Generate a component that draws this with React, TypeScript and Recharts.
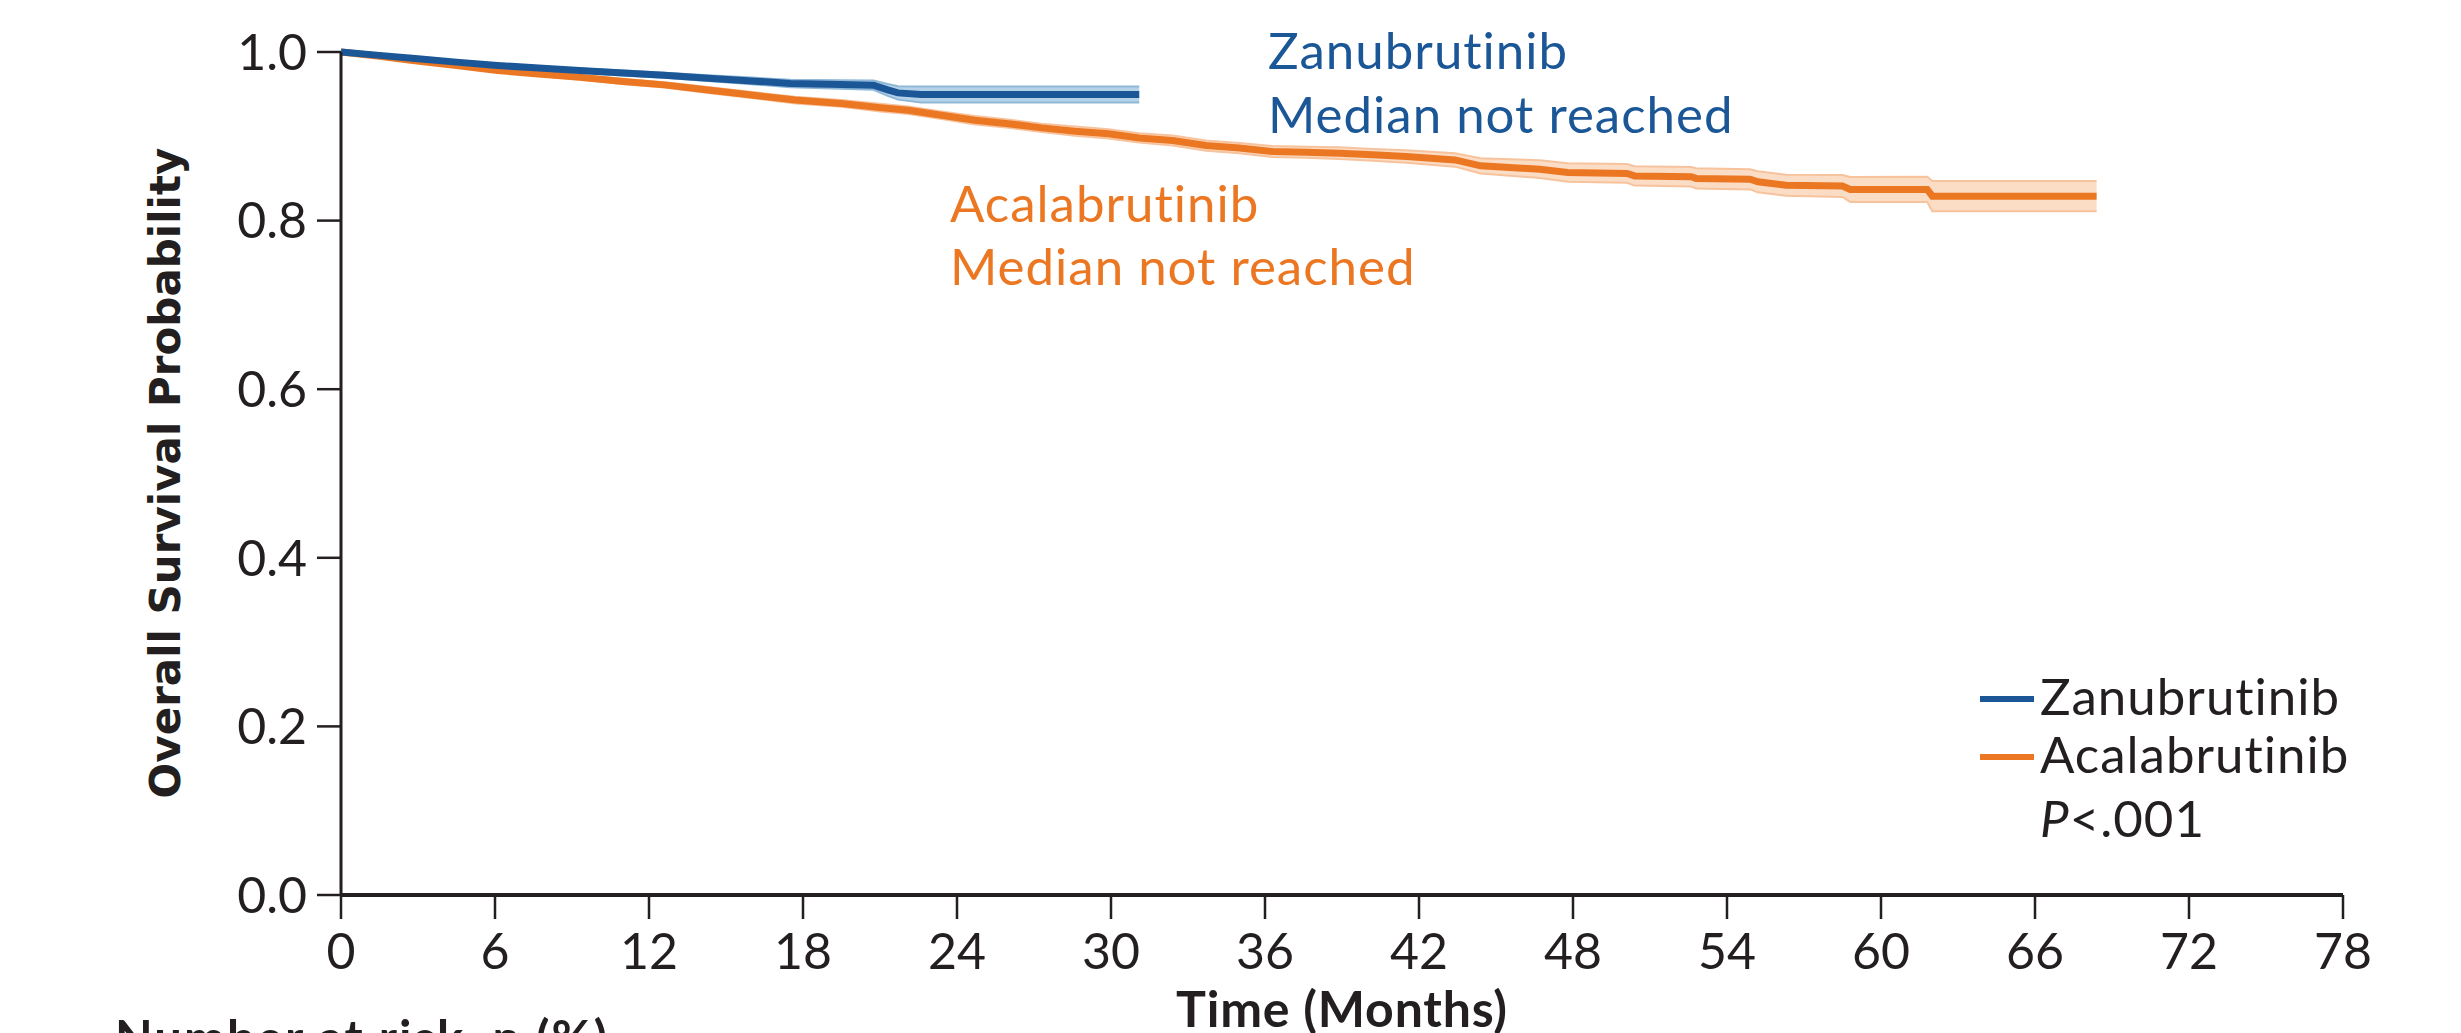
import React from 'react';
import { ComposedChart, Line, Area, XAxis, YAxis } from 'recharts';

// Kaplan-Meier overall survival
const monthTicks = [0, 6, 12, 18, 24, 30, 36, 42, 48, 54, 60, 66, 72, 78];
const survTicks = [0, 0.2, 0.4, 0.6, 0.8, 1.0];

const zanuMonths = [0, 1.5, 3.0, 4.5, 6.1, 7.7, 9.3, 11.0, 12.6, 14.3, 16.0, 17.5, 19.45, 20.75, 21.3, 21.7, 22.6, 31.1];
const zanuSurv = [1.0, 0.996, 0.992, 0.988, 0.984, 0.981, 0.978, 0.975, 0.9725, 0.969, 0.9657, 0.9626, 0.9614, 0.9606, 0.955, 0.9515, 0.9496, 0.9496];
const zanuCI = [0, 0.001, 0.0015, 0.002, 0.002, 0.0025, 0.0025, 0.003, 0.003, 0.0035, 0.004, 0.0045, 0.005, 0.0055, 0.007, 0.008, 0.0095, 0.0095];

const acalaMonths = [0, 1.5, 2.8, 4.5, 6.1, 7.7, 9.3, 11.0, 12.6, 14.3, 16.0, 17.7, 19.5, 21.0, 22.1, 23.4, 24.7, 26.0, 27.3, 28.6, 29.9, 31.1, 32.4, 33.7, 35.0, 36.3, 37.6, 38.9, 40.2, 41.5, 43.4, 44.4, 46.7, 47.8, 50.1, 50.4, 52.6, 52.8, 54.9, 55.2, 56.3, 58.5, 58.8, 61.8, 62.0, 68.4];
const acalaSurv = [1.0, 0.995, 0.99, 0.984, 0.978, 0.974, 0.97, 0.965, 0.961, 0.955, 0.949, 0.943, 0.939, 0.934, 0.931, 0.925, 0.919, 0.915, 0.91, 0.906, 0.903, 0.898, 0.895, 0.889, 0.886, 0.882, 0.881, 0.88, 0.878, 0.876, 0.872, 0.865, 0.861, 0.857, 0.856, 0.853, 0.852, 0.85, 0.849, 0.846, 0.842, 0.841, 0.837, 0.837, 0.829, 0.829];
const acalaCI = [0, 0.001, 0.0015, 0.002, 0.002, 0.0025, 0.0025, 0.003, 0.003, 0.0035, 0.0035, 0.004, 0.004, 0.0045, 0.0045, 0.0045, 0.005, 0.005, 0.005, 0.0055, 0.0055, 0.0055, 0.006, 0.006, 0.006, 0.0065, 0.0065, 0.007, 0.007, 0.0075, 0.008, 0.009, 0.0105, 0.011, 0.0112, 0.0115, 0.0115, 0.012, 0.012, 0.0125, 0.0125, 0.013, 0.0148, 0.015, 0.018, 0.018];

const BLUE = '#1b5797';
const ORANGE = '#ec7723';
const INK = '#231f20';
const FONT = 'Lato, "Open Sans", sans-serif';

const rows = (t: number[], s: number[], ci: number[]) =>
  t.map((m, i) => ({ t: m, s: s[i], band: [s[i] - ci[i], s[i] + ci[i]] }));

const zanuRows = rows(zanuMonths, zanuSurv, zanuCI);
const acalaRows = rows(acalaMonths, acalaSurv, acalaCI);

const W = 2461;
const H = 1033;

export default function App() {
  return (
    <div style={{ position: 'absolute', left: 0, top: 0, width: W, height: H, overflow: 'hidden', background: '#fff' }}>
      <ComposedChart width={W} height={H} margin={{ top: 52, right: 118, left: 0, bottom: 0 }}>
        <XAxis
          dataKey="t"
          type="number"
          domain={[0, 78]}
          ticks={monthTicks}
          allowDataOverflow
          height={138}
          tickSize={24}
          tickMargin={14}
          axisLine={{ stroke: INK, strokeWidth: 4 }}
          tickLine={{ stroke: INK, strokeWidth: 2.5 }}
          tick={{ fontSize: 50, fill: INK, fontFamily: FONT }}
        />
        <YAxis
          type="number"
          domain={[0, 1]}
          ticks={survTicks}
          width={341}
          tickSize={24}
          tickMargin={10}
          tickFormatter={(v: number) => v.toFixed(1)}
          axisLine={{ stroke: INK, strokeWidth: 3 }}
          tickLine={{ stroke: INK, strokeWidth: 2.5 }}
          tick={{ fontSize: 50, fill: INK, fontFamily: FONT }}
        />
        <Area
          data={acalaRows}
          dataKey="band"
          type="linear"
          stroke="#f7c39d"
          strokeWidth={2}
          fill="#fbdcc5"
          fillOpacity={1}
          dot={false}
          activeDot={false}
          isAnimationActive={false}
        />
        <Area
          data={zanuRows}
          dataKey="band"
          type="linear"
          stroke="#8fb8d8"
          strokeWidth={2}
          fill="#b5d2e8"
          fillOpacity={1}
          dot={false}
          activeDot={false}
          isAnimationActive={false}
        />
        <Line
          data={acalaRows}
          dataKey="s"
          type="linear"
          stroke={ORANGE}
          strokeWidth={7}
          dot={false}
          activeDot={false}
          isAnimationActive={false}
        />
        <Line
          data={zanuRows}
          dataKey="s"
          type="linear"
          stroke={BLUE}
          strokeWidth={7}
          dot={false}
          activeDot={false}
          isAnimationActive={false}
        />
      </ComposedChart>

      <svg width={W} height={H} style={{ position: 'absolute', left: 0, top: 0, pointerEvents: 'none' }}>
        <g fontFamily={FONT} fontSize={51} letterSpacing={1}>
          <text x={1268} y={69} fill={BLUE}>Zanubrutinib</text>
          <text x={1268} y={133} fill={BLUE}>Median not reached</text>
          <text x={950} y={222} fill={ORANGE}>Acalabrutinib</text>
          <text x={950} y={285} fill={ORANGE}>Median not reached</text>

          <line x1={1980} x2={2034} y1={699} y2={699} stroke={BLUE} strokeWidth={6} />
          <line x1={1980} x2={2034} y1={757} y2={757} stroke={ORANGE} strokeWidth={6} />
          <text x={2040} y={715} fill={INK}>Zanubrutinib</text>
          <text x={2040} y={773} fill={INK}>Acalabrutinib</text>
          <text x={2040} y={837} fill={INK}>
            <tspan fontStyle="italic">P</tspan>&lt;.001
          </text>
        </g>
        <text
          transform="translate(180, 473) rotate(-90)"
          textAnchor="middle"
          fontFamily='"DejaVu Sans", sans-serif'
          fontWeight="bold"
          fontSize={42}
          fill={INK}
        >
          Overall Survival Probability
        </text>
        <text x={1342} y={1027} textAnchor="middle" fontFamily={FONT} fontWeight="bold" fontSize={50} letterSpacing={0.8} fill={INK}>
          Time (Months)
        </text>
        <text x={115} y={1056} fontFamily={FONT} fontWeight="bold" fontSize={49} letterSpacing={2} fill={INK}>
          Number at risk, n (%)
        </text>
      </svg>
    </div>
  );
}
